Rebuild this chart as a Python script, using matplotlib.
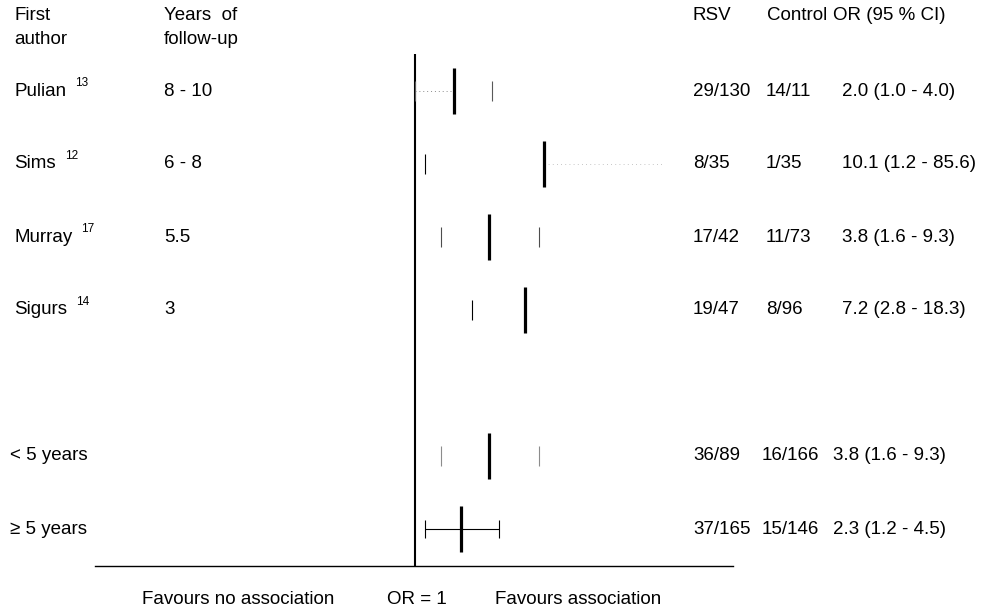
import matplotlib
matplotlib.use("Agg")
import matplotlib.pyplot as plt
import matplotlib.transforms as mtransforms
import numpy as np

plt.rcParams['font.family'] = ['Liberation Sans', 'DejaVu Sans']

# ---- data ----
authors = ["Pulian", "Sims", "Murray", "Sigurs", "< 5 years", "\u2265 5 years"]
refs = ["13", "12", "17", "14", "", ""]
followup = ["8 - 10", "6 - 8", "5.5", "3", "", ""]
rsv = ["29/130", "8/35", "17/42", "19/47", "36/89", "37/165"]
control = ["14/11", "1/35", "11/73", "8/96", "16/166", "15/146"]
odds = [2.0, 10.1, 3.8, 7.2, 3.8, 2.3]
ci_low = [1.0, 1.2, 1.6, 2.8, 1.6, 1.2]
ci_high = [4.0, 85.6, 9.3, 18.3, 9.3, 4.5]
pooled = [False, False, False, False, True, True]
row_pos = [0, 1, 2, 3, 5, 6]

# ---- style (not data): how each row's interval is drawn in the reference ----
ci_line_style = ["dotted-low", "dotted-high", None, None, None, "solid"]
show_high_cap = [True, False, True, False, True, True]
cap_color = ["0.35", "black", "0.3", "black", "0.55", "black"]

W, H = 985, 609
fig = plt.figure(figsize=(W / 100, H / 100), dpi=100)

ax_left, ax_right, ax_top, ax_bot = 95, 733, 54, 566
ax = fig.add_axes([ax_left / W, (H - ax_bot) / H, (ax_right - ax_left) / W, (ax_bot - ax_top) / H])
ax.set_xscale("log")
ppl = 55.8  # pixels per ln unit
x1px = 415
ax.set_xlim(np.exp((ax_left - x1px) / ppl), np.exp((ax_right - x1px) / ppl))
row0, step = 91, 73
ax.set_ylim((ax_bot - row0) / step, (ax_top - row0) / step)
for s in ["top", "right", "left"]:
    ax.spines[s].set_visible(False)
ax.spines["bottom"].set_linewidth(1.0)
ax.set_xticks([])
ax.set_yticks([])
ax.xaxis.set_minor_locator(matplotlib.ticker.NullLocator())

ax.axvline(1, color="black", lw=1.5)

for i, y in enumerate(row_pos):
    ls = ci_line_style[i]
    if ls == "solid":
        ax.hlines(y, ci_low[i], ci_high[i], color="black", lw=0.8)
    elif ls == "dotted-low":
        ax.hlines(y, ci_low[i], odds[i], color="0.55", lw=0.7, linestyles=(0, (1, 3)))
    elif ls == "dotted-high":
        ax.hlines(y, odds[i], ci_high[i], color="0.7", lw=0.6, linestyles=(0, (1, 4)))
    capw = 0.123 if ls == "solid" else 0.14
    ax.vlines(ci_low[i], y - capw, y + capw, color=cap_color[i], lw=0.8)
    if show_high_cap[i]:
        ax.vlines(ci_high[i], y - capw, y + capw, color=cap_color[i], lw=0.8)
    ax.vlines(odds[i], y - 0.315, y + 0.315, color="black", lw=2.3)

fs = 13.5
tr = mtransforms.blended_transform_factory(fig.transFigure, ax.transData)

def fx(px):
    return px / W

for i, y in enumerate(row_pos):
    t = ax.text(fx(10 if pooled[i] else 14), y, authors[i], transform=tr, fontsize=fs,
                va="center", ha="left")
    if refs[i]:
        ax.annotate(refs[i], xy=(1, 0.6), xycoords=t, xytext=(6.5, 0),
                    textcoords="offset points", fontsize=8.5, va="bottom", ha="left")
    if followup[i]:
        ax.text(fx(164), y, followup[i], transform=tr, fontsize=fs, va="center", ha="left")
    ax.text(fx(693), y, rsv[i], transform=tr, fontsize=fs, va="center", ha="left")
    ax.text(fx(762 if pooled[i] else 766), y, control[i], transform=tr, fontsize=fs,
            va="center", ha="left")
    ax.text(fx(833 if pooled[i] else 842), y,
            f"{odds[i]:.1f} ({ci_low[i]:.1f} - {ci_high[i]:.1f})",
            transform=tr, fontsize=fs, va="center", ha="left")

def fy(py):
    return 1 - py / H

fig.text(fx(14), fy(16), "First", fontsize=fs, va="center", ha="left")
fig.text(fx(14), fy(40), "author", fontsize=fs, va="center", ha="left")
fig.text(fx(164), fy(16), "Years  of", fontsize=fs, va="center", ha="left")
fig.text(fx(164), fy(40), "follow-up", fontsize=fs, va="center", ha="left")
fig.text(fx(693), fy(16), "RSV", fontsize=fs, va="center", ha="left")
fig.text(fx(767), fy(16), "Control", fontsize=fs, va="center", ha="left")
fig.text(fx(833), fy(16), "OR (95 % CI)", fontsize=fs, va="center", ha="left")

fig.text(fx(142), fy(600), "Favours no association", fontsize=fs, va="center", ha="left")
fig.text(fx(387), fy(600), "OR = 1", fontsize=fs, va="center", ha="left")
fig.text(fx(495), fy(600), "Favours association", fontsize=fs, va="center", ha="left")

fig.savefig("out.png", dpi=100, facecolor="white")
